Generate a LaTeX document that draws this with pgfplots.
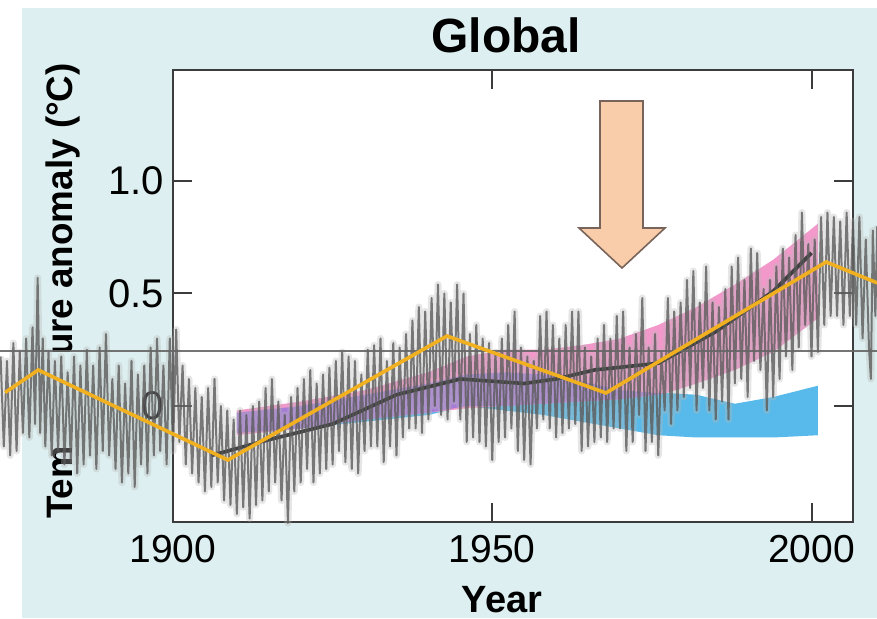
\documentclass[border=0pt]{standalone}
\usepackage{pgfplots}
\pgfplotsset{compat=1.18}
\usepackage{pgfplotstable}
\usepackage{fontspec}
\setmainfont{Liberation Sans}
\definecolor{bgcyan}{RGB}{221,239,240}
\definecolor{bandpink}{RGB}{243,152,202}
\definecolor{bandblue}{RGB}{88,186,234}
\definecolor{bandpurple}{RGB}{166,124,214}
\definecolor{trendorange}{RGB}{240,176,32}
\definecolor{arrowfill}{RGB}{250,205,170}
\definecolor{arrowedge}{RGB}{120,100,90}
\definecolor{axisgray}{RGB}{60,60,60}

\pgfplotstableread{
x y
1873 0.22
1873.5 -0.18
1874 0.20
1874.5 -0.22
1875 0.28
1875.5 -0.20
1876 0.24
1876.5 -0.12
1877 0.30
1877.5 -0.14
1878 0.35
1878.4 -0.08
1878.8 0.57
1879.2 -0.12
1879.6 0.30
1880 -0.18
1880.5 0.24
1881 -0.22
1881.5 0.20
1882 -0.20
1882.5 0.22
1883 -0.26
1883.5 0.15
1884 -0.25
1884.5 0.22
1885 -0.30
1885.5 0.18
1886 -0.26
1886.5 0.25
1887 -0.22
1887.5 0.18
1888 -0.28
1888.5 0.26
1889 -0.20
1889.5 0.32
1890 -0.22
1890.5 0.12
1891 -0.28
1891.5 0.18
1892 -0.34
1892.5 0.10
1893 -0.30
1893.5 0.20
1894 -0.36
1894.5 0.14
1895 -0.26
1895.5 0.18
1896 -0.30
1896.5 0.26
1897 -0.22
1897.5 0.30
1898 -0.20
1898.5 0.18
1899 -0.26
1899.5 0.30
1900 -0.20
1900.5 0.34
1901 -0.16
1901.5 0.18
1902 -0.26
1902.5 0.12
1903 -0.30
1903.5 0.08
1904 -0.34
1904.5 0.04
1905 -0.38
1905.5 0.08
1906 -0.36
1906.5 0.12
1907 -0.34
1907.5 0.00
1908 -0.42
1908.5 -0.02
1909 -0.44
1909.5 -0.06
1910 -0.48
1910.5 -0.02
1911 -0.45
1911.5 -0.04
1912 -0.50
1912.5 0.00
1913 -0.44
1913.5 0.02
1914 -0.42
1914.5 0.08
1915 -0.38
1915.5 0.12
1916 -0.34
1916.5 0.02
1917 -0.42
1917.5 -0.04
1918 -0.52
1918.5 0.04
1919 -0.38
1919.5 0.08
1920 -0.34
1920.5 0.12
1921 -0.28
1921.5 0.16
1922 -0.34
1922.5 0.10
1923 -0.30
1923.5 0.14
1924 -0.28
1924.5 0.17
1925 -0.26
1925.5 0.20
1926 -0.20
1926.5 0.24
1927 -0.25
1927.5 0.22
1928 -0.28
1928.5 0.20
1929 -0.30
1929.5 0.14
1930 -0.20
1930.5 0.25
1931 -0.18
1931.5 0.27
1932 -0.18
1932.5 0.30
1933 -0.25
1933.5 0.20
1934 -0.18
1934.5 0.28
1935 -0.22
1935.5 0.26
1936 -0.14
1936.5 0.32
1937 -0.10
1937.5 0.38
1938 -0.10
1938.5 0.44
1939 -0.12
1939.5 0.42
1940 -0.06
1940.5 0.48
1941 0.00
1941.5 0.54
1942 -0.04
1942.5 0.50
1943 -0.06
1943.5 0.46
1944 0.02
1944.5 0.54
1945 -0.06
1945.5 0.50
1946 -0.16
1946.5 0.32
1947 -0.14
1947.5 0.36
1948 -0.16
1948.5 0.30
1949 -0.18
1949.5 0.28
1950 -0.24
1950.5 0.24
1951 -0.16
1951.5 0.30
1952 -0.14
1952.5 0.36
1953 -0.10
1953.5 0.42
1954 -0.20
1954.5 0.26
1955 -0.24
1955.5 0.22
1956 -0.26
1956.5 0.20
1957 -0.10
1957.5 0.40
1958 -0.06
1958.5 0.42
1959 -0.10
1959.5 0.36
1960 -0.14
1960.5 0.30
1961 -0.12
1961.5 0.36
1962 -0.10
1962.5 0.42
1963 -0.08
1963.5 0.42
1964 -0.20
1964.5 0.26
1965 -0.18
1965.5 0.22
1966 -0.16
1966.5 0.30
1967 -0.14
1967.5 0.36
1968 -0.16
1968.5 0.30
1969 -0.10
1969.5 0.40
1970 -0.10
1970.5 0.42
1971 -0.20
1971.5 0.26
1972 -0.16
1972.5 0.32
1973 -0.04
1973.5 0.48
1974 -0.20
1974.5 0.26
1975 -0.16
1975.5 0.32
1976 -0.22
1976.5 0.24
1977 -0.02
1977.5 0.48
1978 -0.08
1978.5 0.42
1979 -0.02
1979.5 0.46
1980 0.04
1980.5 0.56
1981 0.08
1981.5 0.60
1982 -0.02
1982.5 0.46
1983 0.08
1983.5 0.62
1984 -0.02
1984.5 0.46
1985 -0.06
1985.5 0.44
1986 0.02
1986.5 0.52
1987 -0.06
1987.5 0.62
1988 0.10
1988.5 0.66
1989 0.12
1989.5 0.56
1990 0.04
1990.5 0.70
1991 0.20
1991.5 0.68
1992 0.16
1992.5 0.52
1993 -0.02
1993.5 0.56
1994 0.04
1994.5 0.62
1995 0.12
1995.5 0.70
1996 0.22
1996.5 0.66
1997 0.16
1997.5 0.76
1998 0.26
1998.5 0.86
1999 0.36
1999.5 0.72
2000 0.22
2000.5 0.74
2001 0.24
2001.5 0.84
2002 0.36
2002.5 0.86
2003 0.40
2003.5 0.84
2004 0.40
2004.5 0.82
2005 0.36
2005.5 0.86
2006 0.40
2006.5 0.82
2007 0.36
2007.5 0.84
2008 0.30
2008.5 0.74
2009 0.26
2009.3 0.12
2009.6 0.78
2010 0.40
2010.3 0.80
}\obsdata

\begin{document}
\begin{tikzpicture}
\useasboundingbox (-86.5pt,-48pt) rectangle (352pt,261pt);
\clip (-86.5pt,-48pt) rectangle (352pt,261pt);
\fill[white] (-86.5pt,-48pt) rectangle (352pt,261pt);
\fill[bgcyan] (-75.5pt,-48pt) rectangle (352pt,257pt);
\node[rotate=90,anchor=base,inner sep=0pt,font=\fontsize{18.4}{20}\selectfont\bfseries] at (-50pt,115.5pt) {Temperature anomaly (°C)};
\fill[bgcyan] (-68.5pt,37pt) rectangle (-40.5pt,85pt);
\node[anchor=base,inner sep=0pt,font=\fontsize{24}{26}\selectfont\bfseries] at (166.5pt,235pt) {Global};
\node[anchor=base,inner sep=0pt,font=\fontsize{19}{21}\selectfont\bfseries] at (164.5pt,-45pt) {Year};
\begin{axis}[
  at={(0pt,0pt)}, anchor=south west,
  scale only axis, width=340pt, height=226pt,
  xmin=1900, xmax=2006.5, ymin=-0.5156, ymax=1.4933,
  clip=false,
  axis background/.style={fill=white},
  axis line style={draw=axisgray, line width=1pt},
  tick style={draw=axisgray, line width=1pt},
  major tick length=9.5pt, tick align=inside,
  xtick={1900,1950,2000}, xticklabels={1900,1950,2000},
  ytick={0,0.5,1}, yticklabels={0,0.5,1.0},
  xticklabel style={font=\fontsize{19.5}{21}\selectfont, yshift=-3pt},
  yticklabel style={font=\fontsize{20}{22}\selectfont, xshift=-1pt},
]
% natural-only band (blue)
\addplot[draw=none, fill=bandblue] coordinates {
(1910,-0.03) (1920,0.00) (1930,0.05) (1940,0.10) (1946,0.14) (1952,0.15) (1958,0.14) (1964,0.11) (1970,0.07) (1976,0.06) (1982,0.05) (1988,0.01) (1994,0.04) (2001,0.09)
(2001,-0.13) (1994,-0.14) (1988,-0.14) (1982,-0.14) (1976,-0.13) (1970,-0.10) (1964,-0.07) (1958,-0.04) (1952,-0.02) (1946,0.00) (1940,-0.04) (1930,-0.07) (1920,-0.10) (1910,-0.12)
} -- cycle;
% all-forcings band (pink)
\addplot[draw=none, fill=bandpink] coordinates {
(1910,-0.02) (1920,0.02) (1930,0.07) (1940,0.15) (1946,0.22) (1952,0.25) (1958,0.25) (1964,0.27) (1970,0.30) (1976,0.36) (1982,0.44) (1988,0.54) (1994,0.65) (2001,0.81)
(2001,0.39) (1994,0.24) (1988,0.16) (1982,0.10) (1977,0.055) (1970,0.03) (1964,0.02) (1958,0.01) (1952,0.00) (1946,-0.01) (1940,-0.03) (1930,-0.06) (1920,-0.10) (1910,-0.13)
} -- cycle;
% overlap (purple)
\addplot[draw=none, fill=bandpurple] coordinates {
(1910,-0.03) (1920,0.00) (1930,0.05) (1940,0.10) (1946,0.14) (1952,0.15) (1958,0.14) (1964,0.11) (1970,0.07) (1977,0.055)
(1970,0.03) (1964,0.02) (1958,0.01) (1952,0.00) (1946,0.00) (1940,-0.03) (1930,-0.06) (1920,-0.10) (1910,-0.12)
} -- cycle;
% decadal observations (mostly hidden)
\addplot[black, line width=1.8pt] coordinates {
(1906,-0.22) (1915,-0.15) (1925,-0.08) (1935,0.05) (1945,0.12) (1955,0.10) (1960,0.12) (1966,0.16) (1976,0.19) (1985,0.33) (1994,0.51) (2000,0.68)
};
% observations, fuzzy grey
\addplot[gray!55, line width=3.5pt, opacity=0.35, line join=round] table[x=x,y=y] {\obsdata};
\addplot[black!65, line width=1.0pt, opacity=0.78, line join=round] table[x=x,y=y] {\obsdata};
% reference line
\addplot[black!60, line width=1.1pt, opacity=0.9] coordinates {(1872.5,0.243) (2010.5,0.243)};
% trend segments
\addplot[trendorange, line width=1.8pt] coordinates {
(1873.7,0.06) (1878.9,0.16) (1908.6,-0.24) (1942.9,0.311) (1967.8,0.058) (2002.3,0.64) (2010.3,0.547)
};
\end{axis}
\draw[draw=arrowedge, fill=arrowfill, line width=0.8pt, line join=miter]
  (213.5pt,210.5pt) -- (235pt,210.5pt) -- (235pt,147pt) -- (246pt,147pt) -- (224.5pt,127pt) -- (203pt,147pt) -- (213.5pt,147pt) -- cycle;
\end{tikzpicture}
\end{document}
